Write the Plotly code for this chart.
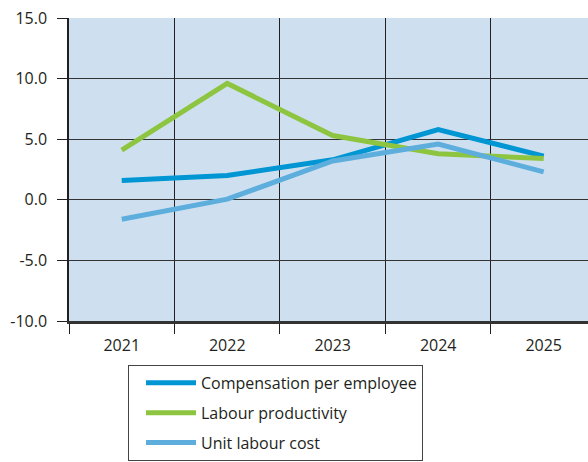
import plotly.graph_objects as go

years = ["2021", "2022", "2023", "2024", "2025"]
compensation = [1.6, 2.0, 3.3, 5.8, 3.6]
productivity = [4.1, 9.6, 5.3, 3.8, 3.4]
unit_cost = [-1.6, 0.05, 3.2, 4.6, 2.3]
y_tick_values = [-10, -5, 0, 5, 10, 15]
y_tick_labels = ["-10.0", "-5.0", "0.0", "5.0", "10.0", "15.0"]

series = [
    ("Compensation per employee", compensation, "#0096D3"),
    ("Labour productivity", productivity, "#8DC540"),
    ("Unit labour cost", unit_cost, "#5DAEDD"),
]

fig = go.Figure()
for i, (name, vals, col) in enumerate(series):
    fig.add_trace(go.Scatter(
        x=years, y=vals, name=name, mode="lines",
        line=dict(color=col, width=5),
        legendgroup=f"g{i}",
    ))

font = dict(family="Open Sans", size=16, color="#231F20")

fig.update_layout(
    width=588, height=462,
    margin=dict(l=69, r=0, t=18, b=141),
    paper_bgcolor="white",
    plot_bgcolor="#CEE0EF",
    font=font,
    showlegend=True,
    legend=dict(
        x=0.1137, y=-0.145, xanchor="left", yanchor="top",
        bordercolor="#444444", borderwidth=1,
        bgcolor="white",
        tracegroupgap=6,
        itemwidth=50,
        indentation=12,
        font=font,
    ),
    xaxis=dict(
        type="category",
        range=[-0.5, 4.42],
        tickson="boundaries",
        ticks="outside", ticklen=10, tickcolor="#231F20", tickwidth=1.2,
        showgrid=True, gridcolor="#231F20", gridwidth=1.2,
        showline=True, linecolor="#333333", linewidth=2.5,
        tickfont=font, ticklabelstandoff=8,
    ),
    yaxis=dict(
        range=[-10, 15],
        tickmode="array", tickvals=y_tick_values, ticktext=y_tick_labels,
        ticks="outside", ticklen=10, tickcolor="#231F20", tickwidth=1.2,
        showgrid=True, gridcolor="#333333", gridwidth=1.2,
        zeroline=False,
        showline=True, linecolor="#231F20", linewidth=1.5,
        tickfont=font, ticklabelstandoff=7,
    ),
)

fig.write_html(
    "out.html",
    config={"displayModeBar": False},
    post_script="document.body.style.margin='0';document.body.style.overflow='hidden';",
)
